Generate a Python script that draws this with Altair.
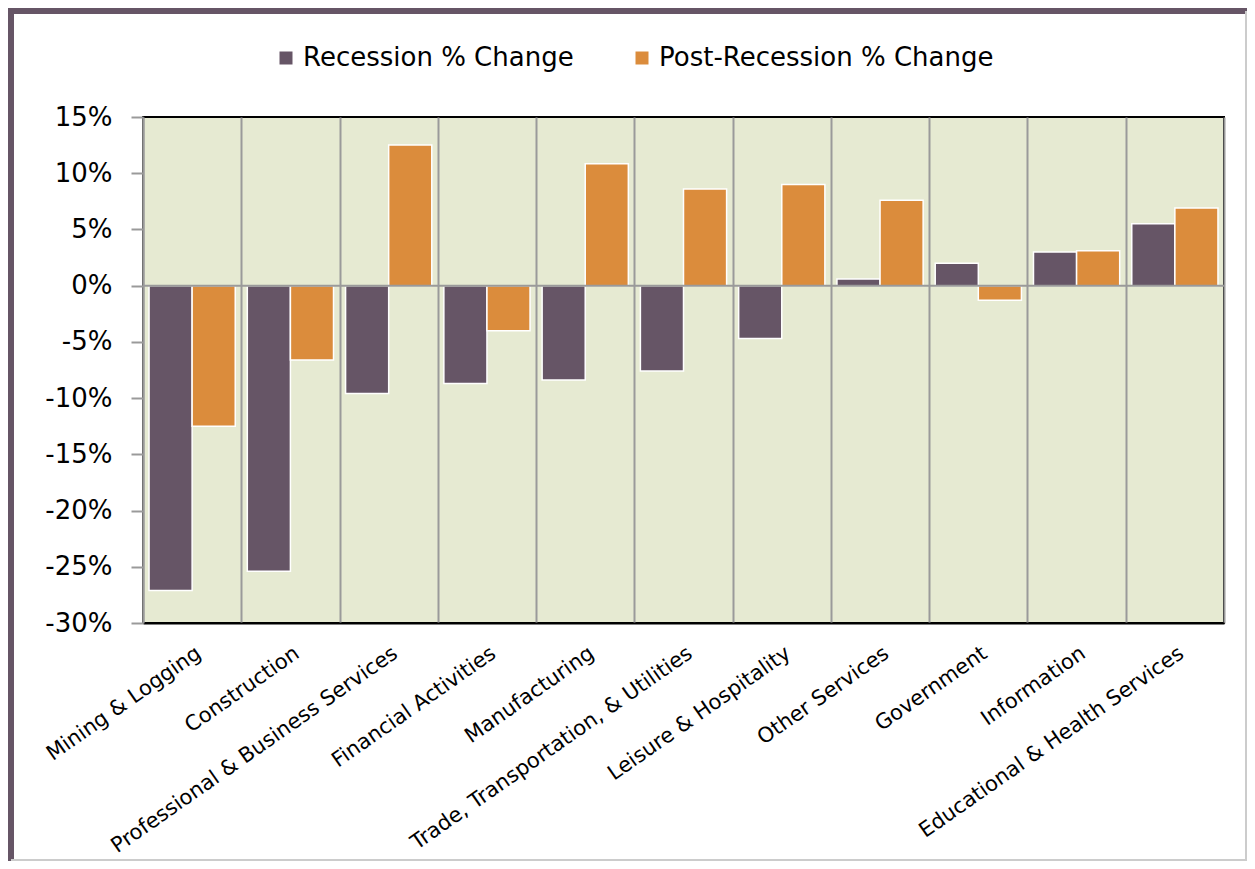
import altair as alt
import pandas as pd

categories = [
    "Mining & Logging", "Construction", "Professional & Business Services",
    "Financial Activities", "Manufacturing", "Trade, Transportation, & Utilities",
    "Leisure & Hospitality", "Other Services", "Government", "Information",
    "Educational & Health Services",
]
recession = [-27.1, -25.4, -9.6, -8.7, -8.4, -7.6, -4.7, 0.6, 2.0, 3.0, 5.5]
post_recession = [-12.5, -6.6, 12.5, -4.0, 10.85, 8.6, 9.0, 7.6, -1.3, 3.1, 6.9]
series = ["Recession % Change", "Post-Recession % Change"]
colors = ["#665566", "#db8c3c"]
y_ticks = [-30, -25, -20, -15, -10, -5, 0, 5, 10, 15]

rows = []
for c, r, p in zip(categories, recession, post_recession):
    rows.append({"Industry": c, "Series": series[0], "Change": r})
    rows.append({"Industry": c, "Series": series[1], "Change": p})
df = pd.DataFrame(rows)

W, H = 1081, 506
FONT = "DejaVu Sans"

bars = alt.Chart(df).mark_bar(stroke="white", strokeWidth=1.5).encode(
    x=alt.X("Industry:N", sort=categories, title=None,
            scale=alt.Scale(paddingInner=0, paddingOuter=0),
            axis=alt.Axis(labelAngle=-35, labelFontSize=21, labelColor="black",
                          labelFont=FONT, labelLimit=0, labelPadding=19,
                          ticks=False, grid=True, tickBand="extent",
                          gridColor="#9a9a9a", gridWidth=2,
                          domainColor="black", domainWidth=2)),
    xOffset=alt.XOffset("Series:N", sort=series,
                        scale=alt.Scale(paddingInner=0, paddingOuter=0.14)),
    y=alt.Y("Change:Q", title=None,
            scale=alt.Scale(domain=[-30, 15], nice=False, zero=False),
            axis=alt.Axis(values=y_ticks, labelExpr="datum.value + '%'",
                          labelFontSize=26, labelColor="black", labelFont=FONT,
                          labelPadding=19, grid=False, tickColor="#9a9a9a",
                          tickSize=12, tickWidth=2, domainColor="#9a9a9a",
                          domainWidth=2)),
    color=alt.Color("Series:N", sort=series,
                    scale=alt.Scale(domain=series, range=colors),
                    legend=alt.Legend(title=None, orient="none", direction="horizontal",
                                      legendX=130, legendY=-72, symbolType="square",
                                      symbolSize=169, symbolStrokeWidth=0,
                                      labelFontSize=26, labelFont=FONT, labelLimit=0,
                                      labelColor="black", columnPadding=55,
                                      labelOffset=4, symbolOpacity=1)),
)

zero = alt.Chart(pd.DataFrame({"z": [0]})).mark_rule(color="#9a9a9a", strokeWidth=2).encode(
    y=alt.Y("z:Q"), x=alt.value(0), x2=alt.value(W)
)

frame_df = pd.DataFrame({"a": [0]})
left = alt.Chart(frame_df).mark_rule(color="#665566", strokeWidth=6).encode(
    x=alt.value(-132), y=alt.value(-109), y2=alt.value(H + 238))
top = alt.Chart(frame_df).mark_rule(color="#665566", strokeWidth=6).encode(
    y=alt.value(-106), x=alt.value(-135), x2=alt.value(W + 23))
right = alt.Chart(frame_df).mark_rule(color="#cccccc", strokeWidth=2).encode(
    x=alt.value(W + 22), y=alt.value(-106), y2=alt.value(H + 238))
bottom = alt.Chart(frame_df).mark_rule(color="#cccccc", strokeWidth=2).encode(
    y=alt.value(H + 237), x=alt.value(-132), x2=alt.value(W + 23))

chart = alt.layer(bars, zero, left, top, right, bottom).properties(
    width=W, height=H,
    background="white",
    autosize=alt.AutoSizeParams(type="none"),
    padding={"left": 135, "top": 109, "right": 23, "bottom": 238},
).configure_view(stroke="black", strokeWidth=2, fill="#e6ead2")

chart.save("out.html", embed_options={"renderer": "svg", "actions": False})
